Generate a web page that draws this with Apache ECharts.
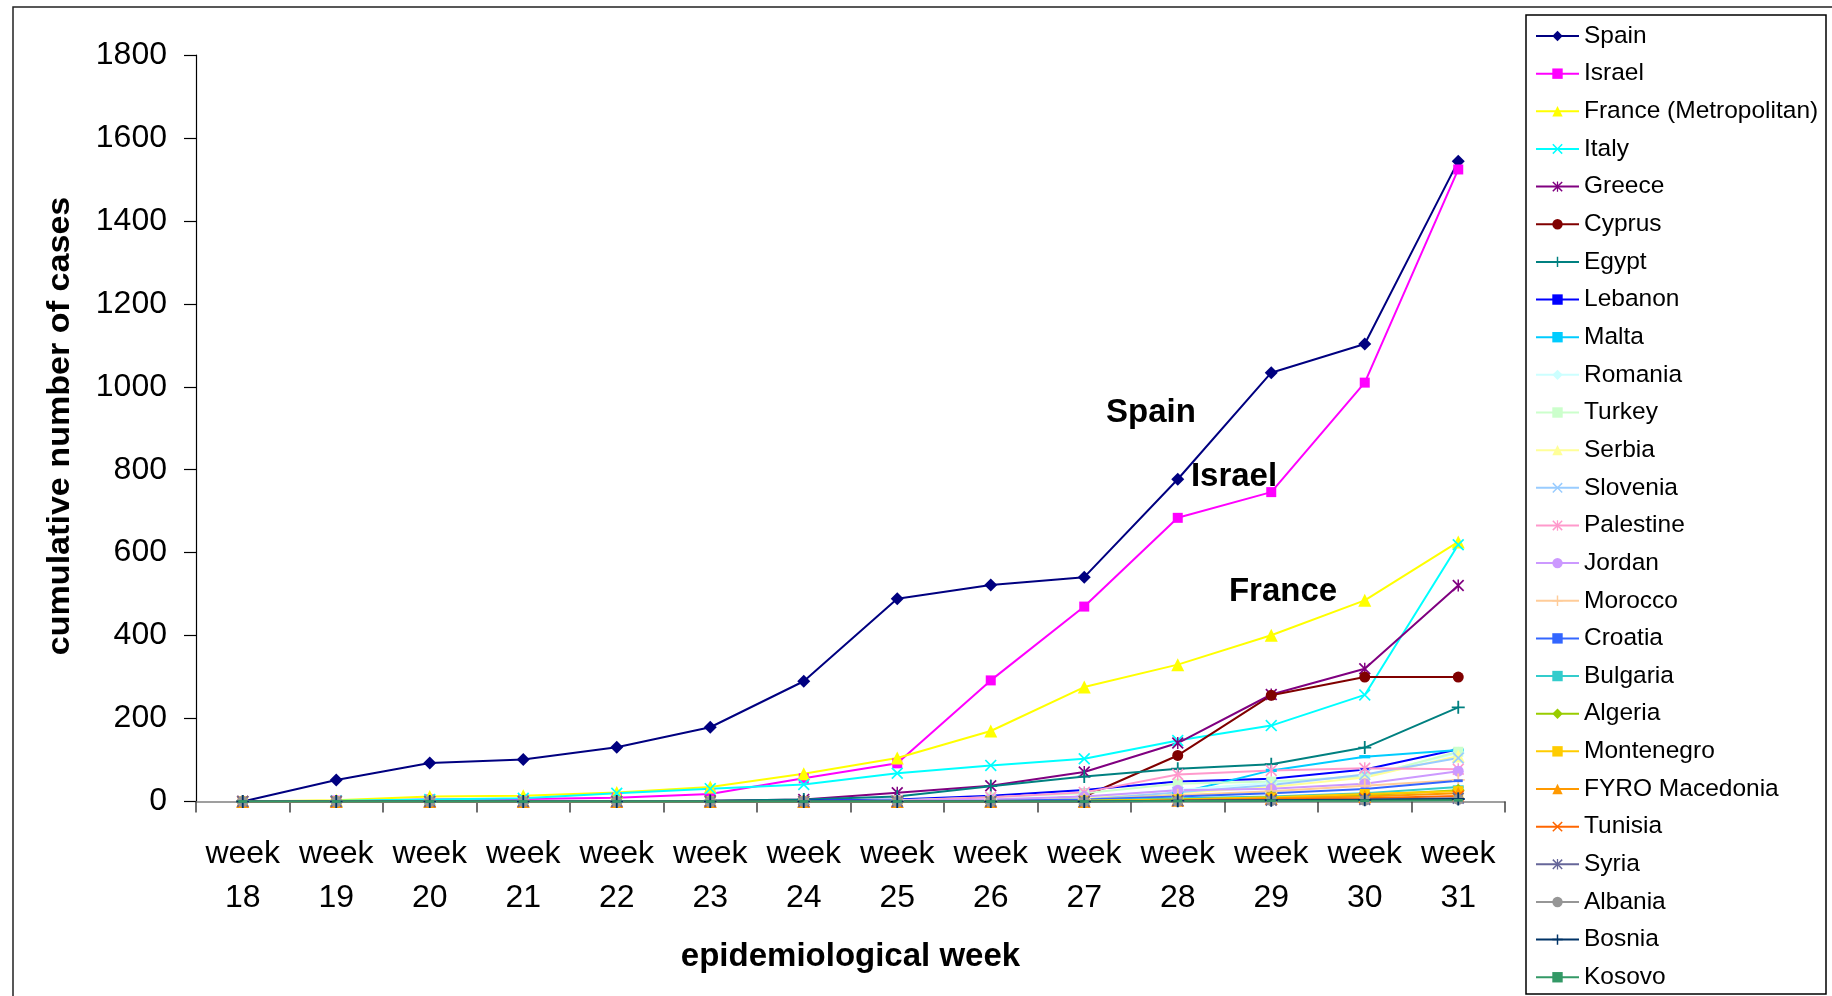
<!DOCTYPE html>
<html>
<head>
<meta charset="utf-8">
<script src="https://cdn.jsdelivr.net/npm/echarts@6/dist/echarts.min.js"></script>
<style>html,body{margin:0;padding:0;background:#fff;}#c{width:1832px;height:996px;}</style>
</head>
<body>
<div id="c"></div>
<script>
// ---- data ----
const weeks = ['18','19','20','21','22','23','24','25','26','27','28','29','30','31'];
const yTicks = [0, 200, 400, 600, 800, 1000, 1200, 1400, 1600, 1800];
const countries = ['Spain','Israel','France (Metropolitan)','Italy','Greece','Cyprus','Egypt','Lebanon','Malta','Romania','Turkey','Serbia','Slovenia','Palestine','Jordan','Morocco','Croatia','Bulgaria','Algeria','Montenegro','FYRO Macedonia','Tunisia','Syria','Albania','Bosnia','Kosovo'];
const spain      = [0, 52, 93, 101, 131, 179, 290, 489, 522, 541, 777, 1034, 1103, 1544];
const israel     = [0, 2, 5, 6, 9, 18, 56, 92, 292, 470, 684, 746, 1010, 1524];
const france     = [0, 3, 12, 14, 22, 35, 67, 105, 170, 276, 330, 401, 485, 626];
const italy      = [0, 2, 5, 8, 20, 31, 41, 68, 87, 103, 147, 183, 257, 619];
const greece     = [0, 0, 0, 0, 0, 2, 5, 21, 38, 71, 141, 258, 320, 521];
const cyprus     = [0, 0, 0, 0, 0, 0, 0, 0, 0, 12, 111, 256, 300, 300];
const egypt      = [0, 0, 0, 0, 0, 2, 5, 12, 37, 60, 79, 90, 130, 227];
const lebanon    = [0, 0, 0, 0, 0, 0, 2, 5, 14, 28, 48, 55, 77, 126];
const malta      = [0, 0, 0, 0, 0, 0, 0, 0, 2, 5, 20, 75, 108, 124];
const romania    = [0, 0, 0, 0, 0, 0, 0, 2, 5, 10, 28, 45, 62, 117];
const turkey     = [0, 0, 0, 0, 0, 0, 0, 3, 10, 20, 43, 48, 60, 120];
const serbia     = [0, 0, 0, 0, 0, 0, 0, 0, 2, 8, 20, 35, 58, 110];
const slovenia   = [0, 0, 0, 0, 0, 0, 0, 0, 2, 5, 22, 40, 65, 105];
const palestine  = [0, 0, 0, 0, 0, 0, 0, 2, 10, 22, 65, 75, 80, 78];
const jordan     = [0, 0, 0, 0, 0, 0, 0, 2, 5, 12, 27, 31, 43, 73];
const morocco    = [0, 0, 0, 0, 0, 0, 0, 0, 2, 5, 15, 25, 38, 52];
const croatia    = [0, 0, 0, 0, 0, 0, 0, 0, 2, 5, 12, 20, 30, 50];
const bulgaria   = [0, 0, 0, 0, 0, 0, 0, 0, 0, 2, 8, 12, 20, 35];
const algeria    = [0, 0, 0, 0, 0, 0, 0, 0, 0, 2, 5, 10, 15, 27];
const montenegro = [0, 0, 0, 0, 0, 0, 0, 0, 0, 2, 5, 10, 18, 25];
const fyro       = [0, 0, 0, 0, 0, 0, 0, 0, 0, 0, 3, 8, 12, 20];
const tunisia    = [0, 0, 0, 0, 0, 0, 0, 0, 0, 0, 2, 5, 8, 13];
const syria      = [0, 0, 0, 0, 0, 0, 0, 0, 0, 0, 2, 3, 5, 8];
const albania    = [0, 0, 0, 0, 0, 0, 0, 0, 0, 0, 1, 2, 3, 5];
const bosnia     = [0, 0, 0, 0, 0, 0, 0, 0, 0, 0, 2, 3, 4, 6];
const kosovo     = [0, 0, 0, 0, 0, 0, 0, 0, 0, 0, 1, 2, 2, 3];
const seriesValues = [spain, israel, france, italy, greece, cyprus, egypt, lebanon, malta, romania, turkey, serbia, slovenia, palestine, jordan, morocco, croatia, bulgaria, algeria, montenegro, fyro, tunisia, syria, albania, bosnia, kosovo];

// ---- styles ----
const P_X = 'path://M0,1L1,0L5,4L9,0L10,1L6,5L10,9L9,10L5,6L1,10L0,9L4,5Z';
const P_STAR = 'path://M0,1L1,0L5,4L9,0L10,1L6,5L10,9L9,10L5,6L1,10L0,9L4,5Z M4.4,0L5.6,0L5.6,10L4.4,10Z';
const P_PLUS = 'path://M4.3,0L5.7,0L5.7,4.3L10,4.3L10,5.7L5.7,5.7L5.7,10L4.3,10L4.3,5.7L0,5.7L0,4.3L4.3,4.3Z';
const P_DASH = 'path://M0,0L10,0L10,3L0,3Z';
const styles = [
  ['#000080','diamond',13], ['#FF00FF','rect',10], ['#FFFF00','triangle',13], ['#00FFFF',P_X,12],
  ['#800080',P_STAR,12], ['#800000','circle',11], ['#008080',P_PLUS,13], ['#0000FF',P_DASH,9],
  ['#00CCFF',P_DASH,11], ['#CCFFFF','diamond',13], ['#CCFFCC','rect',10], ['#FFFF99','triangle',13],
  ['#99CCFF',P_X,12], ['#FF99CC',P_STAR,12], ['#CC99FF','circle',11], ['#FFCC99',P_PLUS,13],
  ['#3366FF',P_DASH,9], ['#33CCCC',P_DASH,11], ['#99CC00','diamond',13], ['#FFCC00','rect',10],
  ['#FF9900','triangle',13], ['#FF6600',P_X,12], ['#666699',P_STAR,12], ['#969696','circle',11],
  ['#003366',P_PLUS,13], ['#339966',P_DASH,9]
];
const FONT = 'Liberation Sans, Arial, sans-serif';

const series = countries.map((name, i) => ({
  name: name,
  type: 'line',
  data: seriesValues[i],
  symbol: styles[i][1],
  symbolSize: styles[i][2],
  symbolKeepAspect: true,
  showSymbol: true,
  showAllSymbol: true,
  lineStyle: { color: styles[i][0], width: 2 },
  itemStyle: { color: styles[i][0] },
  emphasis: { disabled: true },
  animation: false
}));

const chart = echarts.init(document.getElementById('c'));
chart.setOption({
  animation: false,
  backgroundColor: '#fff',
  textStyle: { fontFamily: FONT },
  grid: { left: 196, right: 327, top: 55, bottom: 194.5, containLabel: false },
  xAxis: {
    type: 'category',
    data: weeks.map(w => 'week\n' + w),
    boundaryGap: true,
    name: 'epidemiological week',
    nameLocation: 'middle',
    nameGap: 139,
    nameTextStyle: { fontSize: 33, fontWeight: 'bold', color: '#000', fontFamily: FONT },
    axisLine: { lineStyle: { color: '#808080', width: 1.5 } },
    axisTick: { show: true, interval: 0, length: 11, lineStyle: { color: '#404040', width: 1.5 } },
    axisLabel: { interval: 0, fontSize: 32, lineHeight: 44, color: '#000', margin: 31, fontFamily: FONT },
    splitLine: { show: false }
  },
  yAxis: {
    type: 'value',
    min: yTicks[0],
    max: yTicks[yTicks.length - 1],
    interval: 200,
    axisLine: { show: true, lineStyle: { color: '#000', width: 1.2 } },
    axisTick: { show: true, length: 12, lineStyle: { color: '#000', width: 1.2 } },
    axisLabel: { fontSize: 32, color: '#000', margin: 29, fontFamily: FONT, formatter: v => String(v) },
    splitLine: { show: false }
  },
  legend: {
    orient: 'vertical',
    left: 1526,
    top: 15,
    padding: [8, 8, 5, 9],
    itemGap: 11.65,
    itemWidth: 43,
    itemHeight: 13,
    borderWidth: 0,
    textStyle: { fontSize: 24.5, lineHeight: 26, color: '#000', fontFamily: FONT },
    data: countries,
    selectedMode: false
  },
  graphic: [
    { type: 'rect', silent: true, shape: { x: 13, y: 7, width: 1830, height: 1010 },
      style: { fill: 'none', stroke: '#222', lineWidth: 1.5 } },
    { type: 'rect', silent: true, shape: { x: 1526, y: 15, width: 300, height: 979 },
      style: { fill: 'none', stroke: '#000', lineWidth: 1.5 } },
    { type: 'text', silent: true, x: 60, y: 426, rotation: Math.PI / 2, scaleX: 1.1,
      style: { text: 'cumulative number of cases', fontSize: 31, fontWeight: 'bold', fontFamily: FONT, fill: '#000',
               align: 'center', verticalAlign: 'middle', textAlign: 'center', textVerticalAlign: 'middle' } },
    { type: 'text', silent: true, x: 1151, y: 413,
      style: { text: 'Spain', fontSize: 33, fontWeight: 'bold', fontFamily: FONT, fill: '#000',
               align: 'center', verticalAlign: 'middle', textAlign: 'center', textVerticalAlign: 'middle' } },
    { type: 'text', silent: true, x: 1234, y: 477,
      style: { text: 'Israel', fontSize: 33, fontWeight: 'bold', fontFamily: FONT, fill: '#000',
               align: 'center', verticalAlign: 'middle', textAlign: 'center', textVerticalAlign: 'middle' } },
    { type: 'text', silent: true, x: 1283, y: 592,
      style: { text: 'France', fontSize: 33, fontWeight: 'bold', fontFamily: FONT, fill: '#000',
               align: 'center', verticalAlign: 'middle', textAlign: 'center', textVerticalAlign: 'middle' } }
  ],
  series: series
});
</script>
</body>
</html>
